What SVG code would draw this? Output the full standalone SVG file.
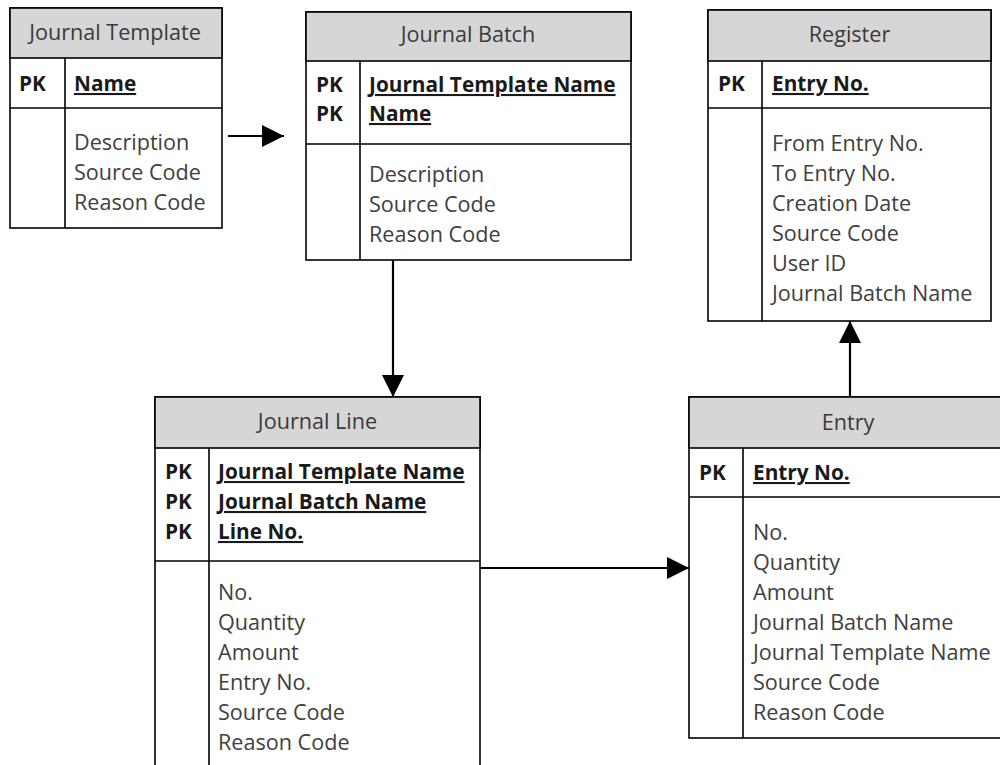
<svg xmlns="http://www.w3.org/2000/svg" width="1000" height="765" viewBox="0 0 1000 765">
  <style>
    .box { fill: #ffffff; stroke: #000000; stroke-width: 1.6; }
    .head { fill: #d6d6d6; stroke: #000000; stroke-width: 1.6; }
    .rule { stroke: #000000; stroke-width: 1.6; fill: none; }
    text { font-family: "Open Sans", "Liberation Sans", sans-serif; font-size: 21.6px; }
    .title { fill: #3a3a3a; text-anchor: middle; }
    .pk { font-size: 20.8px; font-weight: bold; fill: #1a1a1a; }
    .key { font-size: 20.8px; font-weight: bold; fill: #1a1a1a; text-decoration: underline; }
    .field { fill: #404040; }
    .link { stroke: #000000; stroke-width: 2.2; fill: none; }
  </style>
  <defs>
    <marker id="arrow" viewBox="0 0 10 10" refX="10" refY="5" markerWidth="25" markerHeight="22" markerUnits="userSpaceOnUse" orient="auto">
      <path d="M0,0 L10,5 L0,10 Z" fill="#000000"/>
    </marker>
  </defs>

  <rect width="1000" height="765" fill="#ffffff"/>

  <!-- Journal Template -->
  <g id="journal-template">
    <rect class="box" x="10" y="8" width="212" height="220"/>
    <rect class="head" x="10" y="8" width="212" height="50"/>
    <line class="rule" x1="10" y1="108" x2="222" y2="108"/>
    <line class="rule" x1="65" y1="58" x2="65" y2="228"/>
    <text class="title" x="115" y="40">Journal Template</text>
    <text class="pk" x="19" y="91">PK</text>
    <text class="key" x="74" y="91">Name</text>
    <text class="field" x="74" y="150">Description</text>
    <text class="field" x="74" y="180">Source Code</text>
    <text class="field" x="74" y="210">Reason Code</text>
  </g>

  <!-- Journal Batch -->
  <g id="journal-batch">
    <rect class="box" x="306" y="12" width="325" height="248"/>
    <rect class="head" x="306" y="12" width="325" height="49"/>
    <line class="rule" x1="306" y1="144" x2="631" y2="144"/>
    <line class="rule" x1="360" y1="61" x2="360" y2="260"/>
    <text class="title" x="468" y="42">Journal Batch</text>
    <text class="pk" x="316" y="92">PK</text>
    <text class="pk" x="316" y="121">PK</text>
    <text class="key" x="369" y="92">Journal Template Name</text>
    <text class="key" x="369" y="121">Name</text>
    <text class="field" x="369" y="182">Description</text>
    <text class="field" x="369" y="212">Source Code</text>
    <text class="field" x="369" y="242">Reason Code</text>
  </g>

  <!-- Register -->
  <g id="register">
    <rect class="box" x="708" y="10" width="283" height="311"/>
    <rect class="head" x="708" y="10" width="283" height="51"/>
    <line class="rule" x1="708" y1="108" x2="991" y2="108"/>
    <line class="rule" x1="762" y1="61" x2="762" y2="321"/>
    <text class="title" x="849.5" y="42">Register</text>
    <text class="pk" x="718" y="91">PK</text>
    <text class="key" x="772" y="91">Entry No.</text>
    <text class="field" x="772" y="151">From Entry No.</text>
    <text class="field" x="772" y="181">To Entry No.</text>
    <text class="field" x="772" y="211">Creation Date</text>
    <text class="field" x="772" y="241">Source Code</text>
    <text class="field" x="772" y="271">User ID</text>
    <text class="field" x="772" y="301">Journal Batch Name</text>
  </g>

  <!-- Journal Line (continues past the bottom edge) -->
  <g id="journal-line">
    <rect class="box" x="155" y="397" width="325" height="400"/>
    <rect class="head" x="155" y="397" width="325" height="51"/>
    <line class="rule" x1="155" y1="561" x2="480" y2="561"/>
    <line class="rule" x1="209" y1="448" x2="209" y2="797"/>
    <text class="title" x="317.5" y="429">Journal Line</text>
    <text class="pk" x="165" y="479">PK</text>
    <text class="pk" x="165" y="509">PK</text>
    <text class="pk" x="165" y="539">PK</text>
    <text class="key" x="218" y="479">Journal Template Name</text>
    <text class="key" x="218" y="509">Journal Batch Name</text>
    <text class="key" x="218" y="539">Line No.</text>
    <text class="field" x="218" y="600">No.</text>
    <text class="field" x="218" y="630">Quantity</text>
    <text class="field" x="218" y="660">Amount</text>
    <text class="field" x="218" y="690">Entry No.</text>
    <text class="field" x="218" y="720">Source Code</text>
    <text class="field" x="218" y="750">Reason Code</text>
  </g>

  <!-- Entry (continues past the right edge) -->
  <g id="entry">
    <rect class="box" x="689" y="397" width="318" height="341"/>
    <rect class="head" x="689" y="397" width="318" height="51"/>
    <line class="rule" x1="689" y1="497" x2="1007" y2="497"/>
    <line class="rule" x1="743" y1="448" x2="743" y2="738"/>
    <text class="title" x="848" y="430">Entry</text>
    <text class="pk" x="699" y="480">PK</text>
    <text class="key" x="753" y="480">Entry No.</text>
    <text class="field" x="753" y="540">No.</text>
    <text class="field" x="753" y="570">Quantity</text>
    <text class="field" x="753" y="600">Amount</text>
    <text class="field" x="753" y="630">Journal Batch Name</text>
    <text class="field" x="753" y="660">Journal Template Name</text>
    <text class="field" x="753" y="690">Source Code</text>
    <text class="field" x="753" y="720">Reason Code</text>
  </g>

  <!-- Relationships -->
  <g id="connectors">
    <line class="link" x1="228" y1="136" x2="284" y2="136" marker-end="url(#arrow)"/>
    <line class="link" x1="393" y1="260" x2="393" y2="397" marker-end="url(#arrow)"/>
    <line class="link" x1="480" y1="568" x2="689" y2="568" marker-end="url(#arrow)"/>
    <line class="link" x1="850" y1="397" x2="850" y2="321" marker-end="url(#arrow)"/>
  </g>
</svg>
